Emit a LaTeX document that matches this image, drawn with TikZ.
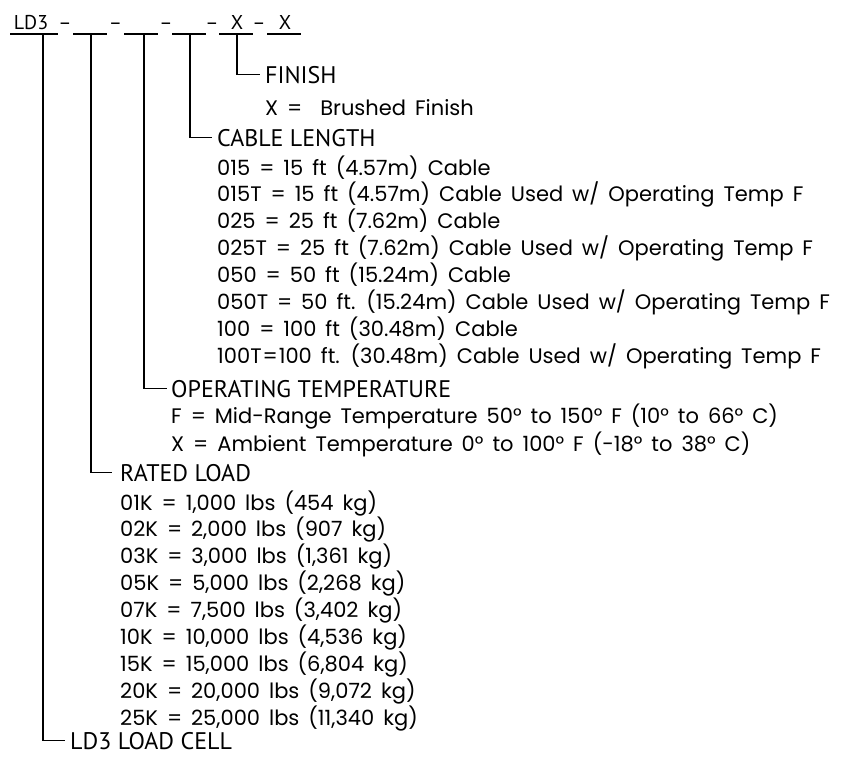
\documentclass[tikz,border=0pt]{standalone}
\usepackage{fontspec}
\setmainfont{Poppins}
\newfontfamily\hdfont{PT Sans}
\newfontfamily\itfont[WordSpace=1.6]{Poppins}
\begin{document}
\begin{tikzpicture}[x=1pt,y=-1pt,
  hd/.style={anchor=base west,inner sep=0pt,font=\hdfont\fontsize{24}{24}\selectfont},
  itm/.style={anchor=base west,inner sep=0pt,font=\itfont\fontsize{21}{21}\selectfont},
  toptxt/.style={anchor=base,inner sep=0pt,font=\hdfont\fontsize{20}{20}\selectfont},
  ln/.style={line width=1.4pt}]
\useasboundingbox (0,0) rectangle (842,756);
% top row
\node[toptxt] (ld3) at (31,29) {LD3};
\node[toptxt] (d1) at (65,29) {–};
\node[toptxt] (d2) at (115.5,29) {–};
\node[toptxt] (d3) at (166,29) {–};
\node[toptxt] (d4) at (212,29) {–};
\node[toptxt] (x1) at (237,29) {X};
\node[toptxt] (d5) at (259,29) {–};
\node[toptxt] (x2) at (285,29) {X};
\draw[ln] (10,34) -- (58,34);
\draw[ln] (73,34) -- (107,34);
\draw[ln] (124,34) -- (158,34);
\draw[ln] (172,34) -- (206,34);
\draw[ln] (219,34) -- (253,34);
\draw[ln] (267,34) -- (301,34);
\coordinate (u1) at (43,34);
\coordinate (u2) at (91,34);
\coordinate (u3) at (144,34);
\coordinate (u4) at (190,34);
\coordinate (u5) at (237,34);
% headings
\node[hd] (h5) at (265,83) {FINISH};
\node[hd] (h4) at (217,146) {CABLE LENGTH};
\node[hd] (h3) at (171,397) {OPERATING TEMPERATURE};
\node[hd] (h2) at (120,481) {RATED LOAD};
\node[hd] (h1) at (70,749) {LD3 LOAD CELL};
% connectors
\draw[ln] (u5) |- ([xshift=-5pt]h5.west);
\draw[ln] (u4) |- ([xshift=-5pt]h4.west);
\draw[ln] (u3) |- ([xshift=-4pt]h3.west);
\draw[ln] (u2) |- ([xshift=-8pt]h2.west);
\draw[ln] (u1) |- ([xshift=-5pt]h1.west);
% finish items
\node[itm] (f1) at (265,115) {X =~~Brushed Finish};
% cable items
\foreach \t [count=\i from 0] in {
  015 = 15 ft (4.57m) Cable,
  015T = 15 ft (4.57m) Cable Used w/ Operating Temp F,
  025 = 25 ft (7.62m) Cable,
  025T = 25 ft (7.62m) Cable Used w/ Operating Temp F,
  050 = 50 ft (15.24m) Cable,
  050T = 50 ft. (15.24m) Cable Used w/ Operating Temp F,
  100 = 100 ft (30.48m) Cable,
  100T\hspace{1pt}=\hspace{1pt}100 ft. (30.48m) Cable Used w/ Operating Temp F}
  \node[itm] (c\i) at (217,175+26.9*\i) {\t};
% temperature items
\node[itm] (t1) at (171,423) {F = Mid-Range Temperature 50° to 150° F (10° to 66° C)};
\node[itm] (t2) at (171,451) {X = Ambient Temperature 0° to 100° F (-18° to 38° C)};
% load items
\foreach \t [count=\i from 0] in {
  01K = {1,000} lbs (454 kg),
  02K = {2,000} lbs (907 kg),
  03K = {3,000} lbs ({1,361} kg),
  05K = {5,000} lbs ({2,268} kg),
  07K = {7,500} lbs ({3,402} kg),
  10K = {10,000} lbs ({4,536} kg),
  15K = {15,000} lbs ({6,804} kg),
  20K = {20,000} lbs ({9,072} kg),
  25K = {25,000} lbs ({11,340} kg)}
  \node[itm] (l\i) at (120,510+26.9*\i) {\t};
\end{tikzpicture}
\end{document}
